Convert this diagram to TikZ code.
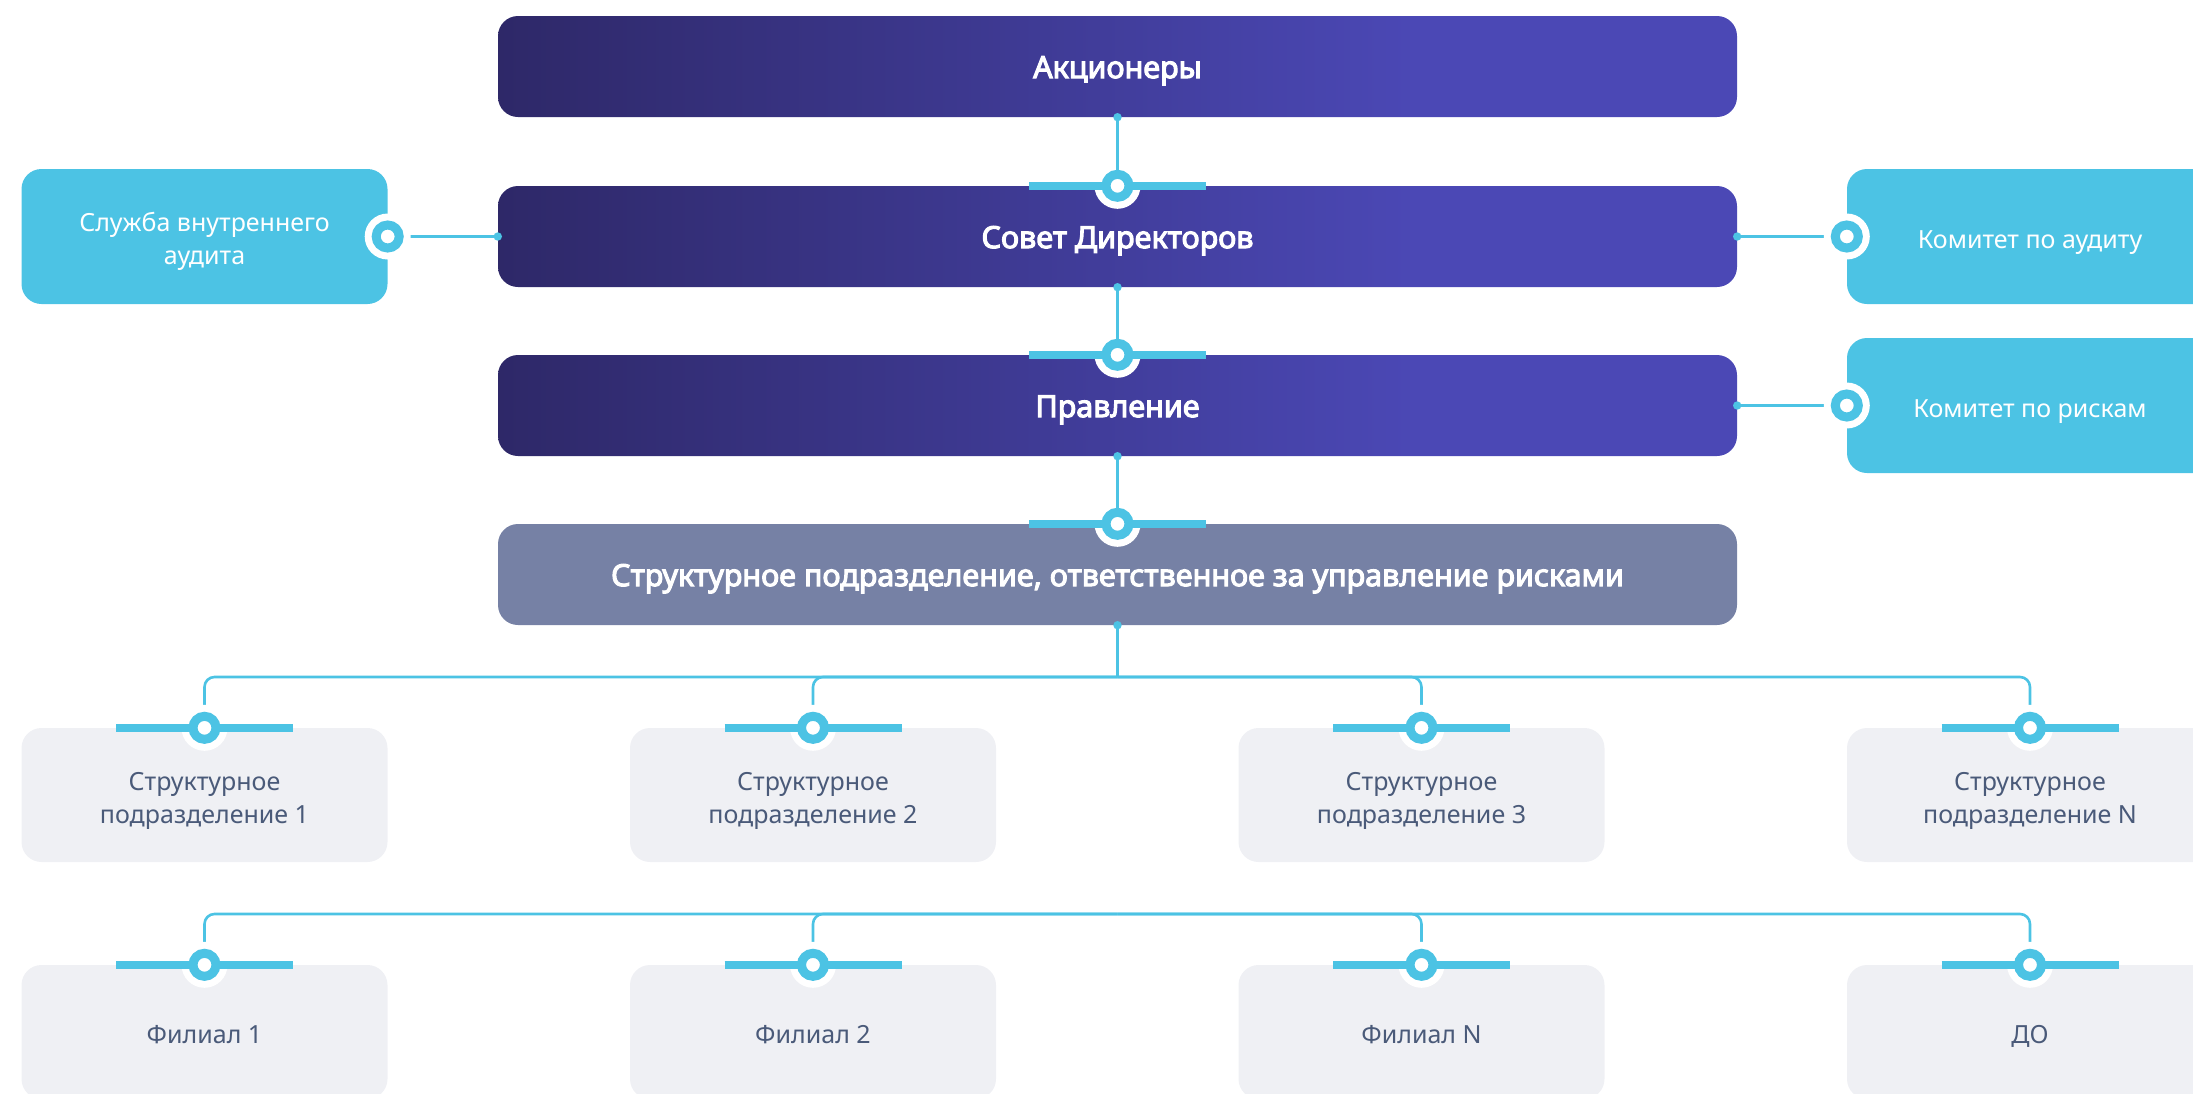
\documentclass[tikz,border=0pt]{standalone}
\usepackage{fontspec}
\setmainfont{Noto Sans}
\newfontfamily\semibf{Noto Sans}[FakeBold=3.5]
\usetikzlibrary{calc}
\definecolor{pdark}{HTML}{2E2868}
\definecolor{plight}{HTML}{4B48B5}
\definecolor{cyanc}{HTML}{4CC3E4}
\definecolor{slate}{HTML}{7681A5}
\definecolor{lightg}{HTML}{EFF0F4}
\definecolor{gtext}{HTML}{4A5A79}
\pgfdeclarehorizontalshading{purp}{100bp}{color(0bp)=(pdark); color(25bp)=(pdark); color(62bp)=(plight); color(100bp)=(plight)}
\newcommand{\lbl}[1]{\raisebox{-5pt}[\height][\depth]{\begin{tabular}{@{}c@{}}#1\end{tabular}}}
\tikzset{
  mainbox/.style={rounded corners=20pt, minimum width=1239pt, minimum height=101pt, inner sep=0pt,
    text=white, font=\semibf\fontsize{30.5}{33}\selectfont},
  purpbox/.style={mainbox, shade, shading=purp, shading angle=0},
  sidebox/.style={rounded corners=20pt, minimum width=366pt, minimum height=135pt, inner sep=0pt,
    fill=cyanc, text=white, font=\fontsize{25}{33}\selectfont},
  rowbox/.style={rounded corners=20pt, minimum width=366pt, minimum height=134pt, inner sep=0pt,
    fill=lightg, text=gtext, font=\fontsize{25}{33}\selectfont},
  conn/.style={draw=cyanc, line width=2.6pt},
  bus/.style={conn, rounded corners=10pt},
  bar/.style={draw=cyanc, line width=7.5pt},
  halo/.style={fill=white},
  ring/.style={draw=cyanc, fill=white, line width=9pt},
  dotc/.style={fill=cyanc}
}
\newcommand{\pinbar}[1]{%
  \draw[bar] ($(#1)+(-88.5,0)$) -- ($(#1)+(88.5,0)$);
  \path[ring] (#1) circle (11.5pt);}
\newcommand{\pinring}[1]{\path[ring] (#1) circle (11.5pt);}
\newcommand{\pinhalo}[1]{\fill[halo] (#1) circle (23pt);}
\newcommand{\cdotmark}[1]{\fill[dotc] (#1) circle (4.2pt);}
\begin{document}
\begin{tikzpicture}[x=1pt,y=-1pt]
\useasboundingbox (0,0) rectangle (2193,1093);
\begin{scope}
\clip (0,0) rectangle (2193,1093);
% main column
\node[purpbox] (ak) at (1117.5,66.5) {\lbl{Акционеры}};
\node[purpbox] (sov) at (1117.5,236.5) {\lbl{Совет Директоров}};
\node[purpbox] (prav) at (1117.5,405.5) {\lbl{Правление}};
\node[mainbox, fill=slate] (str) at (1117.5,574.5) {\lbl{Структурное подразделение, ответственное за управление рисками}};
% side boxes
\node[sidebox] (sl) at (204.5,236.5) {\lbl{Служба внутреннего\\аудита}};
\node[sidebox] (ka) at (2030,236.5) {\lbl{Комитет по аудиту}};
\node[sidebox] (kr) at (2030,405.5) {\lbl{Комитет по рискам}};
% row 1
\node[rowbox] (s1) at (204.5,795) {\lbl{Структурное\\подразделение 1}};
\node[rowbox] (s2) at (813,795) {\lbl{Структурное\\подразделение 2}};
\node[rowbox] (s3) at (1421.5,795) {\lbl{Структурное\\подразделение 3}};
\node[rowbox] (sn) at (2030,795) {\lbl{Структурное\\подразделение N}};
% row 2
\node[rowbox] (f1) at (204.5,1032) {\lbl{Филиал 1}};
\node[rowbox] (f2) at (813,1032) {\lbl{Филиал 2}};
\node[rowbox] (fn) at (1421.5,1032) {\lbl{Филиал N}};
\node[rowbox] (do) at (2030,1032) {\lbl{ДО}};
\coordinate (b1) at (1117.5,677);
\coordinate (b2) at (1117.5,914);
% connectors (under halos)
\draw[conn] (str.south) -- (b1);
\foreach \t in {s1,s2,s3,sn} {\draw[bus] (b1) -| (\t.north);}
\foreach \t in {f1,f2,fn,do} {\draw[bus] (b2) -| (\t.north);}
\draw[conn] (sov.west) -- (sl.east);
\draw[conn] (sov.east) -- (ka.west);
\draw[conn] (prav.east) -- (kr.west);
% halos
\foreach \t in {sov.north,prav.north,str.north,s1.north,s2.north,s3.north,sn.north,f1.north,f2.north,fn.north,do.north,sl.east,ka.west,kr.west} {\pinhalo{\t}}
% main vertical connectors
\draw[conn] (ak.south) -- (sov.north);
\draw[conn] (sov.south) -- (prav.north);
\draw[conn] (prav.south) -- (str.north);
% pins
\foreach \t in {sov.north,prav.north,str.north,s1.north,s2.north,s3.north,sn.north,f1.north,f2.north,fn.north,do.north} {\pinbar{\t}}
\foreach \t in {sl.east,ka.west,kr.west} {\pinring{\t}}
% dots
\foreach \t in {ak.south,sov.south,prav.south,str.south,sov.west,sov.east,prav.east} {\cdotmark{\t}}
\end{scope}
\end{tikzpicture}
\end{document}
